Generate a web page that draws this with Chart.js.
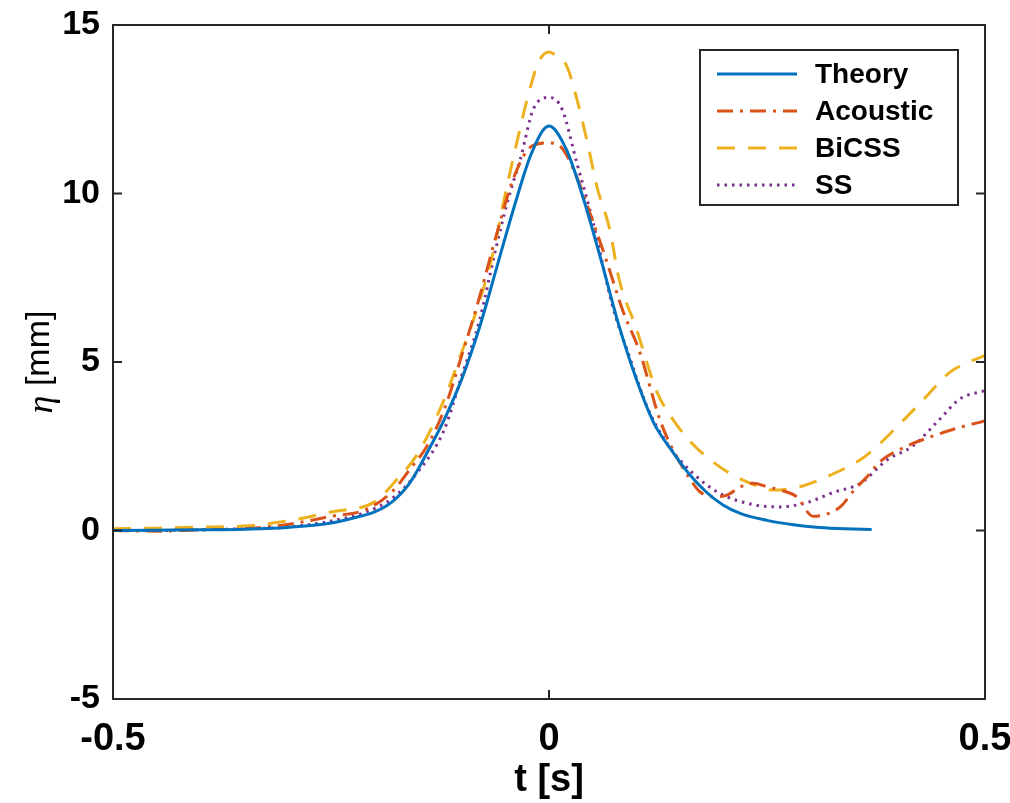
<!DOCTYPE html>
<html>
<head>
<meta charset="utf-8">
<script src="https://cdn.jsdelivr.net/npm/chart.js@4.4.1/dist/chart.umd.min.js"></script>
<style>
    html, body { margin: 0; padding: 0; background: #fff; }
    canvas { display: block; }
</style>
</head>
<body>
<canvas id="chart" width="1010" height="803"></canvas>
<script>
// values
const tTheory = [-0.5, -0.45, -0.4, -0.35, -0.3, -0.25, -0.22, -0.2, -0.18, -0.16, -0.14, -0.12, -0.1, -0.08, -0.06, -0.04, -0.02, 0,
    0.02, 0.04, 0.06, 0.08, 0.1, 0.12, 0.14, 0.16, 0.18, 0.2, 0.22, 0.25, 0.28, 0.31, 0.34, 0.37]
const etaTheory = [0, 0.01, 0.02, 0.04, 0.09, 0.22, 0.4, 0.55, 0.85, 1.4, 2.3, 3.3, 4.5, 6.0, 7.8, 9.6, 11.2, 12.0,
    11.3, 9.8, 8.0, 6.1, 4.5, 3.2, 2.4, 1.7, 1.15, 0.75, 0.5, 0.3, 0.17, 0.09, 0.05, 0.03]

const tAcoustic = [-0.5, -0.45, -0.4, -0.35, -0.3, -0.25, -0.21, -0.18, -0.16, -0.14, -0.12, -0.1, -0.08, -0.06, -0.04, -0.02, 0,
    0.013, 0.03, 0.05, 0.066, 0.085, 0.104, 0.127, 0.142, 0.16, 0.173, 0.19, 0.204, 0.22, 0.234, 0.25, 0.265, 0.284,
    0.303, 0.32, 0.334, 0.35, 0.365, 0.38, 0.41, 0.44, 0.47, 0.5]
const etaAcoustic = [0, -0.02, 0.02, 0.05, 0.18, 0.42, 0.62, 1.15, 1.8, 2.5, 3.6, 5.2, 6.9, 8.8, 10.5, 11.4, 11.5,
    11.4, 10.6, 9.2, 8.0, 6.5, 5.3, 3.3, 2.4, 1.6, 1.15, 1.0, 1.05, 1.3, 1.4, 1.3, 1.2, 1.0,
    0.42, 0.5, 0.7, 1.2, 1.6, 2.05, 2.5, 2.8, 3.05, 3.25]

const tBiCSS = [-0.5, -0.45, -0.4, -0.35, -0.3, -0.25, -0.2, -0.175, -0.15, -0.12, -0.1, -0.09, -0.075, -0.064, -0.05, -0.037,
    -0.025, -0.012, 0, 0.012, 0.02, 0.032, 0.045, 0.055, 0.07, 0.08, 0.1, 0.124, 0.142, 0.16, 0.18, 0.204, 0.231,
    0.257, 0.288, 0.319, 0.357, 0.372, 0.4, 0.43, 0.46, 0.5]
const etaBiCSS = [0.05, 0.07, 0.1, 0.13, 0.28, 0.55, 0.85, 1.5, 2.3, 3.9, 5.3, 6.0, 7.2, 8.25, 10.0, 11.5,
    12.8, 13.9, 14.2, 14.0, 13.8, 12.8, 11.4, 10.2, 8.9, 7.5, 6.0, 4.1, 3.3, 2.7, 2.2, 1.75, 1.4,
    1.2, 1.3, 1.6, 2.1, 2.4, 3.1, 3.9, 4.7, 5.2]

const tSS = [-0.5, -0.45, -0.4, -0.35, -0.3, -0.25, -0.21, -0.18, -0.15, -0.12, -0.1, -0.08, -0.062, -0.045, -0.033, -0.018, 0,
    0.015, 0.032, 0.05, 0.073, 0.093, 0.112, 0.135, 0.165, 0.196, 0.234, 0.265, 0.296, 0.326, 0.357, 0.388, 0.417,
    0.448, 0.471, 0.5]
const etaSS = [0, 0, 0.02, 0.05, 0.1, 0.28, 0.55, 0.95, 1.75, 3.0, 4.6, 6.2, 8.25, 10.0, 11.0, 12.5, 12.85,
    12.5, 10.9, 9.2, 6.65, 5.1, 3.7, 2.6, 1.7, 1.1, 0.77, 0.7, 0.83, 1.13, 1.4, 2.1, 2.5,
    3.3, 3.9, 4.15]

const xTicks = [-0.5, 0, 0.5]
const yTicks = [-5, 0, 5, 10, 15]

const toPoints = (ts, etas) => ts.map((t, i) => ({ x: t, y: etas[i] }))

const AXIS_COLOR = "#262626"
const TICK_FONT = "'Liberation Sans', Arial, sans-serif"

// box round the axes, inward tick marks, legend in the upper right
const boxPlugin = {
    id: "matlabBox",
    afterDraw(chart) {
        const { ctx, chartArea: area, scales } = chart
        const tickLen = 9
        ctx.save()
        ctx.strokeStyle = AXIS_COLOR
        ctx.lineWidth = 2
        ctx.strokeRect(area.left, area.top, area.right - area.left, area.bottom - area.top)
        ctx.beginPath()
        xTicks.forEach((v) => {
            const px = scales.x.getPixelForValue(v)
            ctx.moveTo(px, area.bottom)
            ctx.lineTo(px, area.bottom - tickLen)
            ctx.moveTo(px, area.top)
            ctx.lineTo(px, area.top + tickLen)
        })
        yTicks.forEach((v) => {
            const py = scales.y.getPixelForValue(v)
            ctx.moveTo(area.left, py)
            ctx.lineTo(area.left + tickLen, py)
            ctx.moveTo(area.right, py)
            ctx.lineTo(area.right - tickLen, py)
        })
        ctx.stroke()

        // y axis title: italic eta plus unit
        const cy = (area.top + area.bottom) / 2
        ctx.translate(40, cy)
        ctx.rotate(-Math.PI / 2)
        ctx.fillStyle = "#000"
        ctx.textBaseline = "middle"
        const etaFont = "italic 36px 'Liberation Serif', 'DejaVu Serif', serif"
        const unitFont = "34px " + TICK_FONT
        ctx.font = etaFont
        const wEta = ctx.measureText("η").width
        ctx.font = unitFont
        const wUnit = ctx.measureText(" [mm]").width
        const x0 = -(wEta + wUnit) / 2
        ctx.font = etaFont
        ctx.fillText("η", x0, 3)
        ctx.font = unitFont
        ctx.fillText(" [mm]", x0 + wEta, 0)
        ctx.setTransform(1, 0, 0, 1, 0, 0)

        // legend
        const lx = 700, ly = 50, lw = 258, lh = 155, rowH = 37
        ctx.fillStyle = "#fff"
        ctx.fillRect(lx, ly, lw, lh)
        ctx.strokeStyle = AXIS_COLOR
        ctx.lineWidth = 2
        ctx.strokeRect(lx, ly, lw, lh)
        ctx.font = "bold 28px " + TICK_FONT
        ctx.textBaseline = "middle"
        chart.data.datasets.forEach((ds, i) => {
            const y = ly + 24 + i * rowH
            ctx.beginPath()
            ctx.strokeStyle = ds.borderColor
            ctx.lineWidth = ds.borderWidth
            ctx.setLineDash(ds.borderDash || [])
            ctx.moveTo(lx + 17, y)
            ctx.lineTo(lx + 97, y)
            ctx.stroke()
            ctx.setLineDash([])
            ctx.fillStyle = "#000"
            ctx.fillText(ds.label, lx + 115, y + 1)
        })
        ctx.restore()
    },
}

new Chart(document.getElementById("chart"), {
    type: "line",
    data: {
        datasets: [
            {
                label: "Theory",
                data: toPoints(tTheory, etaTheory),
                borderColor: "#0072BD",
                borderWidth: 3,
            },
            {
                label: "Acoustic",
                data: toPoints(tAcoustic, etaAcoustic),
                borderColor: "#D95319",
                borderWidth: 3,
                borderDash: [16, 7, 3, 7],
            },
            {
                label: "BiCSS",
                data: toPoints(tBiCSS, etaBiCSS),
                borderColor: "#EDB120",
                borderWidth: 3,
                borderDash: [18, 13],
            },
            {
                label: "SS",
                data: toPoints(tSS, etaSS),
                borderColor: "#7E2F8E",
                borderWidth: 3,
                borderDash: [2.5, 5],
            },
        ],
    },
    options: {
        responsive: false,
        animation: false,
        devicePixelRatio: 1,
        layout: {
            padding: { top: 25, right: 25, left: 0, bottom: 0 },
        },
        elements: {
            point: { radius: 0 },
            line: { cubicInterpolationMode: "monotone", borderCapStyle: "butt", fill: false },
        },
        plugins: {
            legend: { display: false },
            tooltip: { enabled: false },
        },
        scales: {
            x: {
                type: "linear",
                min: -0.5,
                max: 0.5,
                afterBuildTicks: (scale) => {
                    scale.ticks = xTicks.map((v) => ({ value: v }))
                },
                afterFit: (scale) => {
                    scale.height = 104
                    scale.paddingLeft = 0
                    scale.paddingRight = 0
                },
                grid: { display: false, drawTicks: false },
                border: { display: false },
                ticks: {
                    color: "#000",
                    padding: 18,
                    maxRotation: 0,
                    font: { family: TICK_FONT, size: 38, weight: "bold" },
                    callback: (v) => String(v),
                },
                title: {
                    display: true,
                    text: "t [s]",
                    color: "#000",
                    padding: { top: 0, bottom: 0 },
                    font: { family: TICK_FONT, size: 38, weight: "bold" },
                },
            },
            y: {
                type: "linear",
                min: -5,
                max: 15,
                afterBuildTicks: (scale) => {
                    scale.ticks = yTicks.map((v) => ({ value: v }))
                },
                afterFit: (scale) => {
                    scale.width = 113
                    scale.paddingTop = 0
                    scale.paddingBottom = 0
                },
                grid: { display: false, drawTicks: false },
                border: { display: false },
                ticks: {
                    color: "#000",
                    padding: 13,
                    font: { family: TICK_FONT, size: 34, weight: "bold" },
                },
            },
        },
    },
    plugins: [boxPlugin],
})
</script>
</body>
</html>
